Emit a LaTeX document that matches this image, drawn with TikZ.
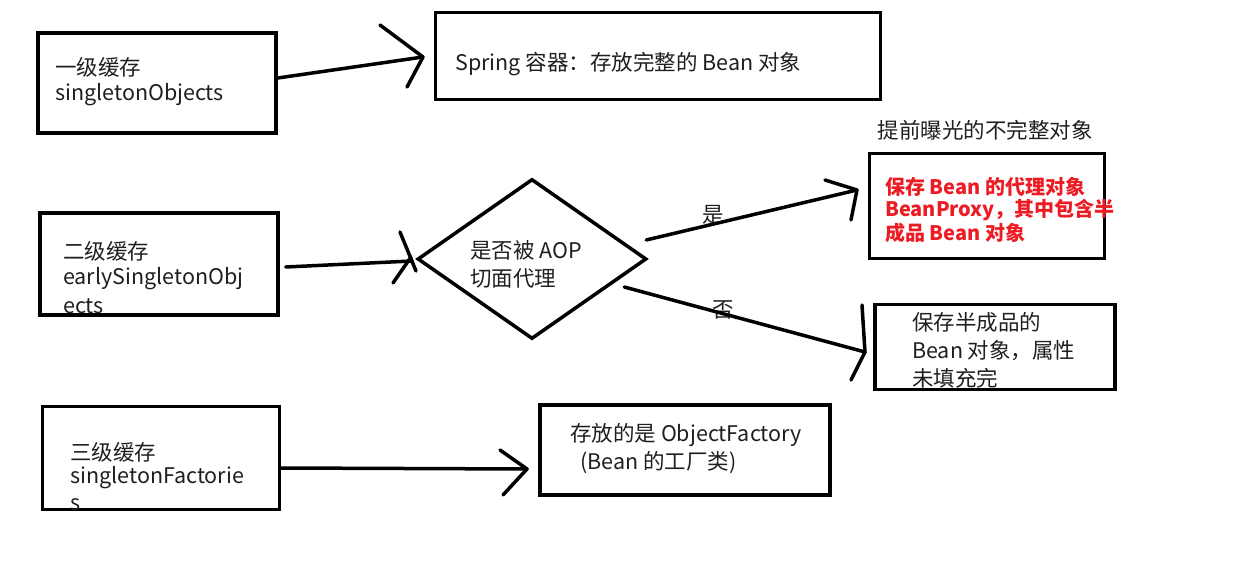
\documentclass[tikz,border=0pt]{standalone}
\usepackage{fontspec}
\setmainfont{Noto Sans CJK SC}
\usetikzlibrary{shapes.geometric}
\tikzset{
  box/.style={draw=black, line width=3.5pt, rectangle, inner sep=0pt},
  conn/.style={draw=black, line width=3.5pt, line cap=round, line join=round},
  txt/.style={anchor=west, inner sep=0pt, font=\fontsize{21.5}{26}\selectfont, text=black!88},
  rtxt/.style={anchor=west, inner sep=0pt, font=\fontsize{20}{24}\selectfont\bfseries, text={rgb,255:red,237;green,28;blue,36}},
}
\begin{document}
\begin{tikzpicture}[x=1pt,y=-1pt]
\useasboundingbox (0,0) rectangle (1234,561);
% boxes
\node[box, minimum width=238pt, minimum height=100pt] (b1) at (157,83) {};
\node[box, minimum width=445pt, minimum height=87pt] (spring) at (658,56) {};
\node[box, minimum width=238pt, minimum height=102pt] (b2) at (159,264) {};
\node[box, minimum width=235pt, minimum height=105pt] (red) at (987,206) {};
\node[box, minimum width=240pt, minimum height=85pt] (half) at (995,347) {};
\node[box, minimum width=237pt, minimum height=103pt] (b3) at (161,458) {};
\node[box, minimum width=290pt, minimum height=90pt] (fac) at (685,450) {};
\node[draw=black, line width=3.5pt, diamond, minimum width=229pt, minimum height=160pt, inner sep=0pt] (aop) at (532,259) {};
% texts
\node[txt] (t1a) at (55,67) {一级缓存};
\node[txt] (t1b) at (55,95) {singletonObjects};
\node[txt] (ts) at (455,64) {Spring 容器：存放完整的 Bean 对象};
\node[txt] (t2a) at (63,251) {二级缓存};
\node[txt] (t2b) at (63,279) {earlySingletonObj};
\node[txt] (t2c) at (63,306) {ects};
\node[txt] (t3a) at (70,452) {三级缓存};
\node[txt] (t3b) at (70,478) {singletonFactorie};
\node[txt] (t3c) at (70,505) {s};
\node[txt] (ta) at (470,250) {是否被 AOP};
\node[txt] (tb) at (470,278) {切面代理};
\node[txt, anchor=center] (ttop) at (985,130) {提前曝光的不完整对象};
\node[rtxt] (r1) at (885,187) {保存 Bean 的代理对象};
\node[rtxt] (r2) at (885,210) {BeanProxy，其中包含半};
\node[rtxt] (r3) at (885,233) {成品 Bean 对象};
\node[txt] (h1) at (912,322) {保存半成品的};
\node[txt] (h2) at (912,351) {Bean 对象，属性};
\node[txt] (h3) at (912,378) {未填充完};
\node[txt] (f1) at (570,435) {存放的是 ObjectFactory};
\node[txt] (f2) at (580,463) {(Bean 的工厂类)};
\node[txt, anchor=center] (lyes) at (713,215) {是};
\node[txt, anchor=center] (lno) at (723,310) {否};
% arrow coordinates
\coordinate (tip1) at (423,57);
\coordinate (w1a) at (380,25);
\coordinate (w1b) at (407,87);
\coordinate (tip2) at (412,261);
\coordinate (tipy) at (857,190);
\coordinate (wya) at (825,180);
\coordinate (wyb) at (851,220);
\coordinate (tipn) at (865,352);
\coordinate (wna) at (862,305);
\coordinate (wnb) at (851,380);
\coordinate (tip3) at (527,469);
\coordinate (w3a) at (500,450);
\coordinate (w3b) at (503,495);
% connectors
\draw[conn] ([yshift=5pt]b1.east) -- (tip1);
\draw[conn] (w1a) -- (tip1) -- (w1b);
\draw[conn] ([xshift=6pt,yshift=-3pt]b2.east) -- (tip2);
\draw[conn] (400,232) -- (416,271);
\draw[conn] (393,283) -- (411,257);
\draw[conn] ([xshift=-2pt,yshift=19pt]aop.east) -- (tipy);
\draw[conn] (wya) -- (tipy) -- (wyb);
\draw[conn] ([xshift=-24pt,yshift=-28pt]aop.east) -- (tipn);
\draw[conn] (wna) -- (tipn) -- (wnb);
\draw[conn] ([yshift=-10pt]b3.east) -- (tip3);
\draw[conn] (w3a) -- (tip3) -- (w3b);
\end{tikzpicture}
\end{document}
